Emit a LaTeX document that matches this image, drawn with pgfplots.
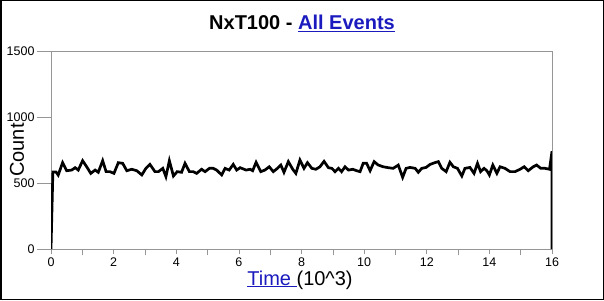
\documentclass[border=0pt]{standalone}
\usepackage{pgfplots}
\pgfplotsset{compat=1.18}
\usepackage{fontspec}
\setmainfont{Liberation Sans}
\definecolor{linkblue}{RGB}{26,26,190}
\definecolor{axgray}{RGB}{150,150,150}
\begin{document}
\begin{tikzpicture}[x=1pt,y=1pt]
\useasboundingbox (0,0) rectangle (604,300);
\draw[black,line width=1.5pt] (0.75,0.75) rectangle (603.25,299.25);
\begin{axis}[
  at={(51pt,51pt)}, anchor=south west,
  scale only axis, width=501pt, height=198pt,
  xmin=0, xmax=16, ymin=0, ymax=1500,
  xtick={0,2,...,16}, minor x tick num=1,
  ytick=\empty,
  minor ytick={100,200,300,400,600,700,800,900,1100,1200,1300,1400},
  extra y ticks={0,500,1000,1500},
  extra y tick style={major tick length=14pt},
  tick pos=left, tick align=outside,
  major tick length=5pt, minor tick length=6pt,
  axis line style={axgray, line width=0.6pt},
  every tick/.style={axgray, line width=0.6pt},
  tick label style={font=\fontsize{12.5}{14}\selectfont, text=black},
  yticklabel style={xshift=1pt},
  /pgf/number format/assume math mode=true,
  /pgf/number format/set thousands separator={},
  clip=true,
]
\addplot[black, line width=2.7pt, line join=miter] coordinates {
(0,0) (0.06,583) (0.16,583) (0.23,560) (0.37,654) (0.50,593) (0.66,598) (0.77,616) (0.87,598)
(1.01,669) (1.14,623) (1.27,573) (1.41,598) (1.51,581) (1.65,669) (1.76,586) (1.88,586)
(2.01,573) (2.15,654) (2.29,649) (2.42,593) (2.58,604) (2.74,593) (2.90,561)
(3.03,611) (3.16,641) (3.32,586) (3.43,586) (3.57,611) (3.67,548) (3.78,669) (3.91,553)
(4.03,586) (4.17,581) (4.28,649) (4.42,586) (4.54,586) (4.65,573) (4.81,604) (4.92,586)
(5.06,611) (5.18,611) (5.29,598) (5.45,561) (5.56,611) (5.69,598) (5.82,641) (5.93,598)
(6.04,616) (6.23,598) (6.36,604) (6.44,593) (6.55,657) (6.70,586) (6.83,598) (6.97,623)
(7.10,586) (7.23,611) (7.34,636) (7.44,581) (7.58,662) (7.72,604) (7.82,573) (7.95,674)
(8.08,611) (8.19,654) (8.33,611) (8.46,604) (8.59,623) (8.72,664) (8.86,616) (8.97,611)
(9.07,586) (9.18,611) (9.28,586) (9.39,623) (9.50,598) (9.64,604) (9.76,593) (9.87,586) (9.97,649)
(10.08,649) (10.19,593) (10.32,662) (10.45,636) (10.61,623) (10.77,616) (10.93,611)
(11.09,636) (11.23,543) (11.34,611) (11.47,618) (11.63,611) (11.73,581) (11.84,611) (11.98,618)
(12.10,640) (12.23,652) (12.37,662) (12.48,611) (12.62,586) (12.74,657) (12.85,623) (12.98,611)
(13.12,553) (13.22,611) (13.38,618) (13.51,573) (13.62,649) (13.72,586) (13.83,611) (13.92,593)
(14.00,561) (14.11,636) (14.24,573) (14.34,623) (14.50,611) (14.66,586) (14.82,586) (14.98,604)
(15.11,623) (15.24,593) (15.40,623) (15.51,636) (15.64,611) (15.78,611) (15.92,604)
(16.0,740) (16.0,0)
};
\end{axis}
\node[anchor=base, font=\fontsize{20}{22}\selectfont\bfseries] at (302,270)
  {NxT100 - \textcolor{linkblue}{\underline{All Events}}};
\node[anchor=base, font=\fontsize{20}{22}\selectfont] at (300,15)
  {\textcolor{linkblue}{\underline{Time }}(10\string^3)};
\node[rotate=90, anchor=center, font=\fontsize{20}{22}\selectfont] at (17,150) {Count};
\end{tikzpicture}
\end{document}
